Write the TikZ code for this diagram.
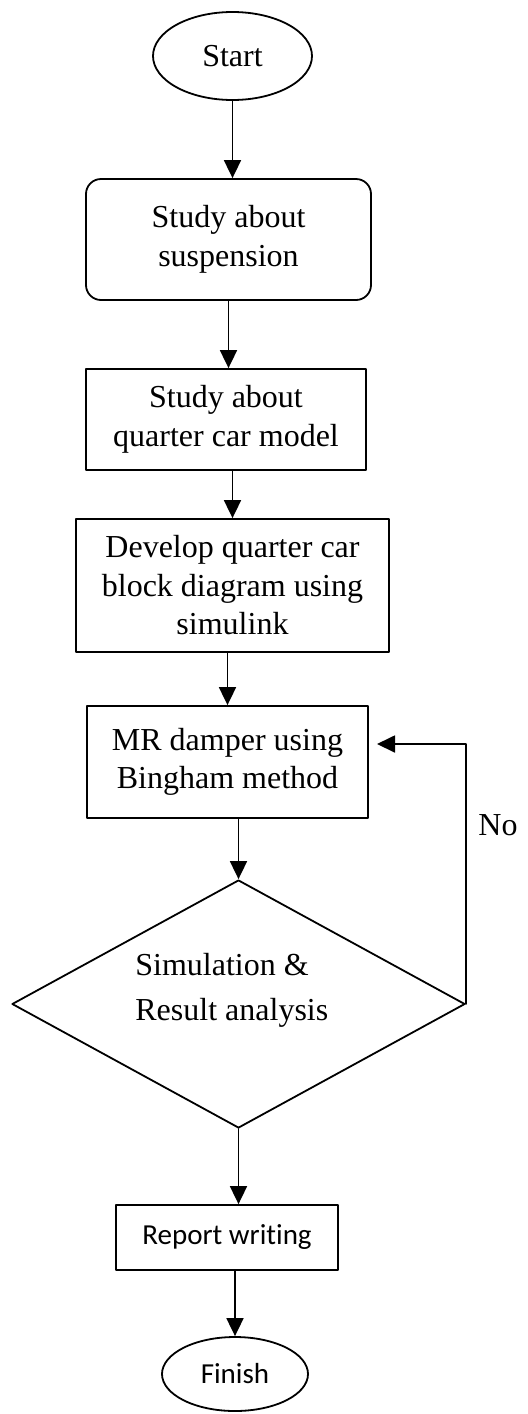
\documentclass[tikz,border=0pt]{standalone}
\usepackage{fontspec}
\setmainfont{Liberation Serif}
\newfontfamily\calfont[Ligatures=NoCommon]{Carlito}
\usetikzlibrary{shapes.geometric}
\usetikzlibrary{arrows.meta}

\begin{document}
\begin{tikzpicture}[line cap=round,line join=round,>={Triangle[length=9pt,width=8.5pt]},x=0.5pt,y=-0.5pt,
  box/.style={draw,line width=0.9pt,inner sep=0pt,align=center,font=\fontsize{16}{19.25}\selectfont},
  term/.style={draw,ellipse,line width=0.9pt,inner sep=0pt},
  flow/.style={->,line width=0.9pt}]
\useasboundingbox (0,0) rectangle (527,1414);

\node[term,minimum width=79.5pt,minimum height=44pt,font=\fontsize{16}{19}\selectfont] (start) at (232.5,56) {Start};
\node[box,rounded corners=7.5pt,minimum width=142.5pt,minimum height=60.5pt] (susp) at (228.5,239.5) {Study about\\suspension};
\node[box,minimum width=140pt,minimum height=50.5pt] (qcar) at (226,419.5) {Study about\\quarter car model};
\node[box,minimum width=156.5pt,minimum height=66.5pt] (dev) at (232.5,585.5) {Develop quarter car\\block diagram using\\simulink};
\node[box,minimum width=140.5pt,minimum height=56pt] (mr) at (227.5,762) {MR damper using\\Bingham method};
\node[draw,diamond,aspect=1.83,line width=0.9pt,inner sep=0pt,minimum width=226.5pt,minimum height=124pt] (dia) at (238.5,1004) {};
\node[anchor=west,inner sep=0pt,align=left,font=\fontsize{16}{22.5}\selectfont] (simtxt) at (135,990) {Simulation \&\\Result analysis};
\node[box,minimum width=111pt,minimum height=32.5pt,font=\calfont\fontsize{14.5}{17}\selectfont] (rep) at (227,1237.5) {Report writing};
\node[term,minimum width=73pt,minimum height=37pt,font=\calfont\fontsize{14.5}{17}\selectfont] (fin) at (235,1374) {Finish};
\node[font=\fontsize{16}{19}\selectfont] (nolab) at (498,825) {No};
\coordinate (noin) at (377,744);

\draw[flow] (start.south) -- (start.south |- susp.north);
\draw[flow] (susp.south) -- (susp.south |- qcar.north);
\draw[flow] (qcar.south -| dev.north) -- (dev.north);
\draw[flow] (dev.south -| mr.north) -- (mr.north);
\draw[flow] (mr.south -| dia.north) -- (dia.north);
\draw[flow] (dia.south) -- (dia.south |- rep.north);
\draw[flow] (rep.south -| fin.north) -- (fin.north);
\draw[flow] (dia.east) |- (noin);
\end{tikzpicture}
\end{document}
